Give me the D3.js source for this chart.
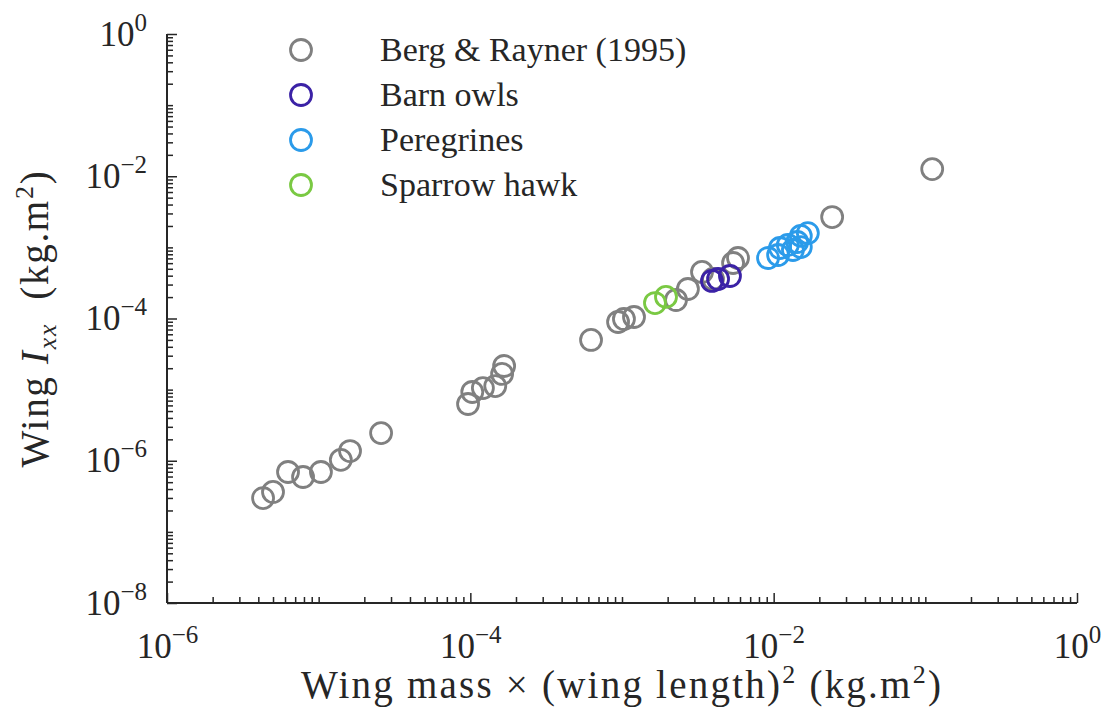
<!DOCTYPE html>
<html>
<head>
<meta charset="utf-8">
<script src="https://cdn.jsdelivr.net/npm/d3@7"></script>
<style>
  html, body { margin: 0; padding: 0; background: #fff; }
  svg { display: block; }
  text { font-family: "Liberation Serif", "Times New Roman", serif; fill: #262626; }
</style>
</head>
<body>
<svg id="chart" width="1107" height="718"></svg>
<script>
// ---- data ----
const seriesNames = ["Berg & Rayner (1995)", "Barn owls", "Peregrines", "Sparrow hawk"];
const seriesColors = ["#808080", "#3b22a6", "#2b9bea", "#7ac943"];

const bergX = [4.30e-6, 5.00e-6, 6.28e-6, 7.89e-6, 1.035e-5, 1.40e-5, 1.61e-5, 2.58e-5,
               9.66e-5, 1.03e-4, 1.21e-4, 1.46e-4, 1.62e-4, 1.67e-4,
               6.25e-4, 9.42e-4, 1.03e-3, 1.20e-3, 2.27e-3, 2.72e-3, 3.37e-3, 3.98e-3,
               5.40e-3, 5.82e-3, 2.43e-2, 0.111];
const bergY = [2.99e-7, 3.64e-7, 6.95e-7, 5.91e-7, 6.95e-7, 1.03e-6, 1.37e-6, 2.45e-6,
               6.28e-6, 9.26e-6, 1.05e-5, 1.12e-5, 1.66e-5, 2.15e-5,
               4.99e-5, 8.93e-5, 9.84e-5, 1.05e-4, 1.82e-4, 2.60e-4, 4.51e-4, 3.59e-4,
               6.03e-4, 7.09e-4, 2.67e-3, 1.26e-2];

const owlX = [3.92e-3, 4.30e-3, 5.15e-3];
const owlY = [3.37e-4, 3.59e-4, 3.96e-4];

const pereX = [9.18e-3, 1.07e-2, 1.10e-2, 1.24e-2, 1.34e-2, 1.43e-2, 1.51e-2, 1.51e-2, 1.68e-2];
const pereY = [7.09e-4, 7.81e-4, 9.80e-4, 1.08e-3, 9.19e-4, 1.19e-3, 1.01e-3, 1.45e-3, 1.59e-3];

const hawkX = [1.65e-3, 1.95e-3];
const hawkY = [1.65e-4, 2.01e-4];

const xMajorExp = [-6, -4, -2, 0];
const yMajorExp = [-8, -6, -4, -2, 0];

// ---- layout ----
const svg = d3.select("#chart");
const mLeft = 167, mRight = 1077, mTop = 34, mBottom = 603;
const x = d3.scaleLog().domain([1e-6, 1]).range([mLeft, mRight]);
const y = d3.scaleLog().domain([1e-8, 1]).range([mBottom, mTop]);
const axisColor = "#262626";

function minorTicks(lo, hi) {
  const out = [];
  for (let e = lo; e < hi; e++) {
    for (let m = 1; m <= 9; m++) {
      if (m === 1 && e % 2 === 0) continue;
      out.push(m * Math.pow(10, e));
    }
  }
  return out;
}

// stretch a text horizontally (via letter spacing) to a target width
function fitWidth(sel, target) {
  const node = sel.node();
  const w = node.getComputedTextLength();
  const n = node.textContent.length;
  if (n > 1 && w < target) sel.attr("letter-spacing", ((target - w) / (n - 1)).toFixed(2));
}

// minor ticks (inward)
svg.append("g")
  .attr("transform", `translate(0,${mBottom})`)
  .call(d3.axisBottom(x).tickValues(minorTicks(-6, 0)).tickSize(-6).tickFormat(""))
  .call(g => g.select(".domain").remove())
  .call(g => g.selectAll("line").attr("stroke", axisColor).attr("stroke-width", 1.5));
svg.append("g")
  .attr("transform", `translate(${mLeft},0)`)
  .call(d3.axisLeft(y).tickValues(minorTicks(-8, 0)).tickSize(-6).tickFormat(""))
  .call(g => g.select(".domain").remove())
  .call(g => g.selectAll("line").attr("stroke", axisColor).attr("stroke-width", 1.5));

// major ticks + labels
const xAx = svg.append("g")
  .attr("transform", `translate(0,${mBottom})`)
  .call(d3.axisBottom(x).tickValues(xMajorExp.map(e => Math.pow(10, e))).tickSize(-10).tickPadding(0).tickFormat(""));
xAx.select(".domain").attr("d", `M${mLeft},0H${mRight}`).attr("stroke", axisColor).attr("stroke-width", 2);
xAx.selectAll("line").attr("stroke", axisColor).attr("stroke-width", 1.5);
xAx.selectAll(".tick").each(function(d, i) {
  const t = d3.select(this).append("text")
    .attr("y", 55).attr("text-anchor", "middle")
    .style("font-size", "35px").attr("fill", axisColor);
  t.append("tspan").text("10");
  t.append("tspan").attr("dy", -15).style("font-size", "25px")
    .text(xMajorExp[i] < 0 ? "\u2212" + (-xMajorExp[i]) : String(xMajorExp[i]));
});

const yAx = svg.append("g")
  .attr("transform", `translate(${mLeft},0)`)
  .call(d3.axisLeft(y).tickValues(yMajorExp.map(e => Math.pow(10, e))).tickSize(-10).tickPadding(0).tickFormat(""));
yAx.select(".domain").attr("d", `M0,${mBottom}V${mTop}`).attr("stroke", axisColor).attr("stroke-width", 2);
yAx.selectAll("line").attr("stroke", axisColor).attr("stroke-width", 1.5);
yAx.selectAll(".tick").each(function(d, i) {
  const t = d3.select(this).append("text")
    .attr("x", -20).attr("y", 11).attr("text-anchor", "end")
    .style("font-size", "35px").attr("fill", axisColor);
  t.append("tspan").text("10");
  t.append("tspan").attr("dy", -15).style("font-size", "25px")
    .text(yMajorExp[i] < 0 ? "\u2212" + (-yMajorExp[i]) : String(yMajorExp[i]));
});

// axis titles
const xl = svg.append("text")
  .attr("x", (mLeft + mRight) / 2).attr("y", 698).attr("text-anchor", "middle")
  .style("font-size", "39px").attr("fill", axisColor);
xl.append("tspan").text("Wing mass \u00d7 (wing length)");
xl.append("tspan").attr("dy", -15).style("font-size", "26px").text("2");
xl.append("tspan").attr("dy", 15).text(" (kg.m");
xl.append("tspan").attr("dy", -15).style("font-size", "26px").text("2");
xl.append("tspan").attr("dy", 15).text(")");
fitWidth(xl, 640);

const yl = svg.append("text")
  .attr("transform", `translate(48,${(mTop + mBottom) / 2}) rotate(-90)`)
  .attr("text-anchor", "middle")
  .style("font-size", "39px").attr("fill", axisColor);
yl.append("tspan").text("Wing ");
yl.append("tspan").style("font-style", "italic").text("I");
yl.append("tspan").attr("dy", 8).style("font-size", "26px").style("font-style", "italic").text("xx");
yl.append("tspan").attr("dy", -8).text("\u00a0 (kg.m");
yl.append("tspan").attr("dy", -15).style("font-size", "26px").text("2");
yl.append("tspan").attr("dy", 15).text(")");
fitWidth(yl, 296);

// points
const series = [
  { xs: bergX, ys: bergY, c: seriesColors[0] },
  { xs: hawkX, ys: hawkY, c: seriesColors[3] },
  { xs: owlX, ys: owlY, c: seriesColors[1] },
  { xs: pereX, ys: pereY, c: seriesColors[2] }
];
series.forEach(s => {
  svg.append("g").selectAll("circle")
    .data(s.xs.map((v, i) => [v, s.ys[i]]))
    .join("circle")
    .attr("cx", d => x(d[0])).attr("cy", d => y(d[1]))
    .attr("r", 10.5).attr("fill", "none")
    .attr("stroke", s.c).attr("stroke-width", 2.8);
});

// legend
const leg = svg.append("g");
seriesNames.forEach((name, i) => {
  const yy = 50 + i * 45;
  leg.append("circle").attr("cx", 301).attr("cy", yy).attr("r", 10.5)
    .attr("fill", "none").attr("stroke", seriesColors[i]).attr("stroke-width", 2.8);
  const t = leg.append("text").attr("x", 380).attr("y", yy + 11)
    .style("font-size", "34px").attr("fill", "#000").text(name);
});
</script>
</body>
</html>
